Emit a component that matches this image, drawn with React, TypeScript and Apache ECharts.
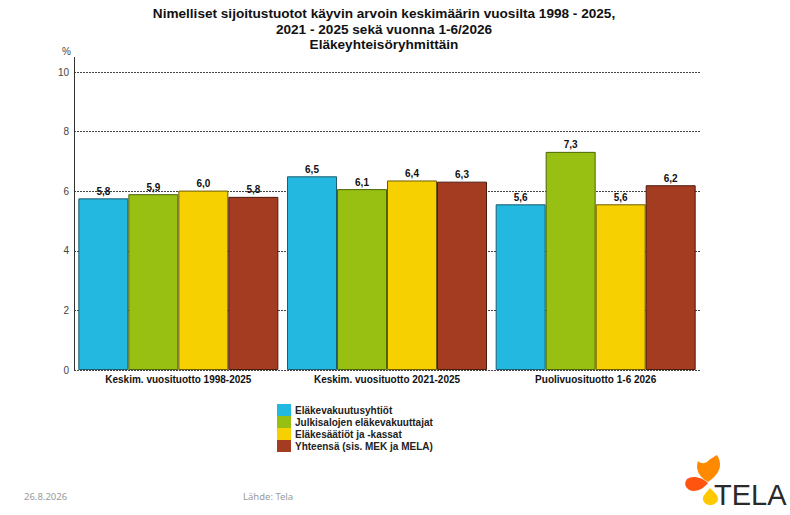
import * as echarts from 'echarts';
import React, { useEffect, useRef } from 'react';

const categories = [
  'Keskim. vuosituotto 1998-2025',
  'Keskim. vuosituotto 2021-2025',
  'Puolivuosituotto 1-6 2026',
];

const seriesNames = [
  'Eläkevakuutusyhtiöt',
  'Julkisalojen eläkevakuuttajat',
  'Eläkesäätiöt ja -kassat',
  'Yhteensä (sis. MEK ja MELA)',
];

const elakevakuutusyhtiot = [5.76, 6.5, 5.56];
const julkisalat = [5.9, 6.07, 7.32];
const saatiot = [6.02, 6.36, 5.56];
const yhteensa = [5.81, 6.32, 6.2];

const yTicks = [0, 2, 4, 6, 8, 10];

const fillColors = ['#22b8df', '#98c013', '#f6d000', '#a43c22'];
const borderColors = ['#1c5c6e', '#4d6508', '#6e5c00', '#4c1a0c'];

const titleText =
  'Nimelliset sijoitustuotot käyvin arvoin keskimäärin vuosilta 1998 - 2025,\n2021 - 2025 sekä vuonna 1-6/2026\nEläkeyhteisöryhmittäin';

// TELA-logon terälehdet
echarts.graphic.registerShape(
  'telaOrange',
  echarts.graphic.extendPath(
    'M708 482 C699 477 695 469 698 461 C701 464 705 464 708 461 C711 458 714 457 717 455 C722 463 722 473 708 482 Z',
    {}
  )
);
echarts.graphic.registerShape(
  'telaRed',
  echarts.graphic.extendPath(
    'M708 483 C702 477 692 475 687 479 C683 484 686 490 693 491 C699 491 704 488 708 483 Z',
    {}
  )
);
echarts.graphic.registerShape(
  'telaYellow',
  echarts.graphic.extendPath(
    'M710 488 C706 493 702 496 703 500 C704 504 708 505 710 505 C713 505 718 503 718 499 C718 495 714 492 710 488 Z',
    {}
  )
);

const fmt = (v: number) => v.toFixed(1).replace('.', ',');

const App: React.FC = () => {
  const chartRef = useRef<HTMLDivElement>(null);

  useEffect(() => {
    if (!chartRef.current) return;
    const chart = echarts.init(chartRef.current, undefined, { renderer: 'svg' });

    const allData = [elakevakuutusyhtiot, julkisalat, saatiot, yhteensa];
    const font = 'Liberation Sans, Arial, sans-serif';

    const option: echarts.EChartsOption = {
      animation: false,
      backgroundColor: '#ffffff',
      title: {
        text: titleText,
        left: 379,
        top: 1,
        textAlign: 'center',
        textStyle: {
          fontFamily: font,
          fontSize: 13.6,
          fontWeight: 'bold',
          color: '#111',
          lineHeight: 15.5,
        },
      },
      legend: {
        orient: 'vertical',
        left: 277,
        top: 404,
        padding: 0,
        itemWidth: 14,
        itemHeight: 12,
        itemGap: 0,
        icon: 'rect',
        data: seriesNames,
        itemStyle: { borderWidth: 0 },
        textStyle: {
          fontFamily: font,
          fontSize: 10,
          fontWeight: 'bold',
          color: '#222',
          lineHeight: 12,
          padding: [0, 0, 0, -1],
        },
      },
      grid: {
        left: 74,
        right: 90,
        top: 72,
        bottom: 145,
      },
      xAxis: {
        type: 'category',
        data: categories,
        axisLine: { show: false },
        axisTick: { show: false },
        axisLabel: {
          margin: 4,
          fontFamily: font,
          fontSize: 10,
          fontWeight: 'bold',
          color: '#111',
          interval: 0,
        },
      },
      yAxis: {
        type: 'value',
        min: yTicks[0],
        max: yTicks[yTicks.length - 1],
        interval: 2,
        name: '%',
        nameLocation: 'end',
        nameGap: 16,
        nameTextStyle: {
          fontFamily: font,
          fontSize: 10,
          color: '#444',
          align: 'right',
          padding: [0, 3, 0, 0],
        },
        axisLine: { show: true, lineStyle: { color: '#333', width: 1 } },
        axisTick: { show: false },
        axisLabel: {
          margin: 5,
          fontFamily: font,
          fontSize: 10,
          color: '#444',
        },
        splitLine: {
          show: true,
          lineStyle: { color: '#444', width: 1, type: [2, 1] },
        },
      },
      series: seriesNames.map((name, i) => ({
        name,
        type: 'bar',
        data: allData[i],
        barWidth: 50,
        barGap: '0%',
        itemStyle: {
          color: fillColors[i],
          borderColor: borderColors[i],
          borderWidth: 1,
        },
        label: {
          show: true,
          position: 'top',
          distance: 2,
          fontFamily: font,
          fontSize: 10,
          fontWeight: 'bold',
          color: '#111',
          formatter: (p: any) => fmt(p.value),
        },
      })),
      graphic: [
        {
          type: 'line',
          shape: { x1: 74.5, y1: 57, x2: 74.5, y2: 72 },
          style: { stroke: '#333', lineWidth: 1 },
          silent: true,
        },
        {
          type: 'text',
          left: 24,
          top: 491,
          style: {
            text: '26.8.2026',
            fontFamily: 'Noto Sans, sans-serif',
            fontSize: 9.5,
            fill: '#9a9a9a',
          },
        },
        {
          type: 'text',
          left: 243,
          top: 491,
          style: {
            text: 'Lähde: Tela',
            fontFamily: 'Noto Sans, sans-serif',
            fontSize: 9.5,
            fill: '#9a9a9a',
          },
        },
        { type: 'telaOrange', x: 0, y: 0, style: { fill: '#ff8a00' } } as any,
        { type: 'telaRed', x: 0, y: 0, style: { fill: '#ff5410' } } as any,
        { type: 'telaYellow', x: 0, y: 0, style: { fill: '#ffc800' } } as any,
        {
          type: 'text',
          left: 714,
          top: 480,
          style: {
            text: 'TELA',
            fontFamily: 'Liberation Sans, Arial, sans-serif',
            fontSize: 29,
            fill: '#2a2a2a',
          },
        },
      ],
    };

    chart.setOption(option);

    return () => {
      chart.dispose();
    };
  }, []);

  return (
    <div
      ref={chartRef}
      style={{ position: 'fixed', left: 0, top: 0, width: 790, height: 515 }}
    />
  );
};

export default App;
